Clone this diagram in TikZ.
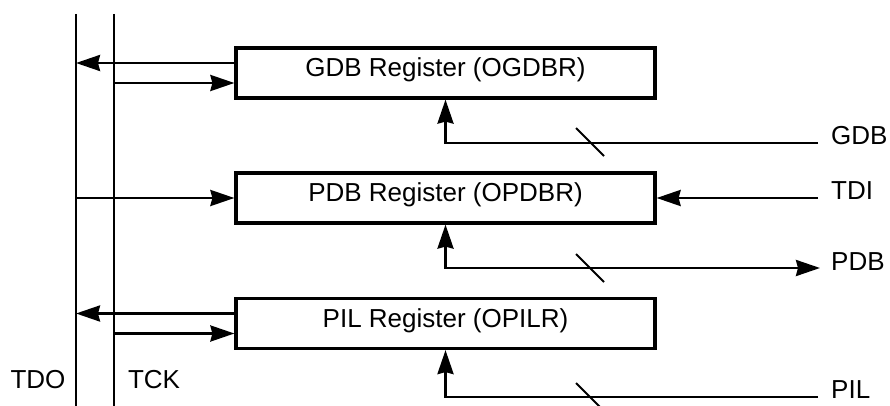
\documentclass[tikz,border=0pt]{standalone}
\usepackage{fontspec}
\setsansfont{Liberation Sans}
\usetikzlibrary{arrows.meta,positioning,calc}
\definecolor{JtagInk}{HTML}{000000}
\tikzset{
  jtag text/.style={font=\sffamily\fontsize{26}{31}\selectfont, text=JtagInk, inner sep=0pt,
    text height=.72em, text depth=0pt},
  jtag register/.style={jtag text, draw=JtagInk, line width=3.2pt, minimum width=419pt, minimum height=50pt},
  jtag rail/.style={draw=JtagInk, line width=2.8pt},
  jtag wire/.style={draw=JtagInk, line width=2.8pt},
  jtag signal/.style={jtag wire, -{Stealth[length=24pt,width=16pt,inset=2pt]}},
  jtag both/.style={jtag wire, {Stealth[length=24pt,width=16pt,inset=2pt]}-{Stealth[length=24pt,width=16pt,inset=2pt]}},
  jtag bus/.style={draw=JtagInk, line width=2pt},
}
\newcommand{\JtagTick}[1]{\draw[jtag bus] ($(#1)+(-14,-14)$) -- ($(#1)+(14,14)$);}

\begin{document}
\begin{tikzpicture}[x=1pt,y=-1pt]
  \useasboundingbox (0,0) rectangle (890,406);

  % scan rails
  \coordinate (tdotop) at (76,14);
  \coordinate (tdoend) at (76,406);
  \coordinate (tcktop) at (114,14);
  \coordinate (tckend) at (114,406);
  \draw[jtag rail] (tdotop) -- (tdoend);
  \draw[jtag rail] (tcktop) -- (tckend);
  \node[jtag text] (tdo) at (38,385) {TDO};
  \node[jtag text] (tck) at (154,385) {TCK};

  % registers
  \node[jtag register] (ogdbr) at (445.5,73) {GDB Register (OGDBR)};
  \node[jtag register] (opdbr) at (445.5,198) {PDB Register (OPDBR)};
  \node[jtag register] (opilr) at (445.5,323.5) {PIL Register (OPILR)};

  % GDB register
  \coordinate (gdbout) at ($(ogdbr.west)+(0,-10)$);
  \coordinate (gdbclk) at ($(ogdbr.west)+(0,10)$);
  \draw[jtag signal] (gdbout) -- (gdbout -| tdotop);
  \draw[jtag signal] (gdbclk -| tcktop) -- (gdbclk);
  \coordinate (gdbin) at (818,143);
  \draw[jtag signal] (gdbin) -| (ogdbr.south);
  \coordinate (gdbtick) at (590,142);
  \JtagTick{gdbtick}
  \node[jtag text, anchor=west] (gdb) at (831,141) {GDB};

  % PDB register
  \draw[jtag signal] (opdbr.west -| tdotop) -- (opdbr.west);
  \coordinate (tdiin) at (818,198);
  \draw[jtag signal] (tdiin) -- (opdbr.east);
  \node[jtag text, anchor=west] (tdi) at (831,196) {TDI};
  \coordinate (pdbout) at (820,268);
  \draw[jtag both] (opdbr.south) |- (pdbout);
  \coordinate (pdbtick) at (590,268);
  \JtagTick{pdbtick}
  \node[jtag text, anchor=west] (pdb) at (831,267) {PDB};

  % PIL register
  \coordinate (pilout) at ($(opilr.west)+(0,-10)$);
  \coordinate (pilclk) at ($(opilr.west)+(0,10)$);
  \draw[jtag signal] (pilout) -- (pilout -| tdotop);
  \draw[jtag signal] (pilclk -| tcktop) -- (pilclk);
  \coordinate (pilin) at (818,397);
  \draw[jtag signal] (pilin) -| (opilr.south);
  \coordinate (piltick) at (590,397);
  \JtagTick{piltick}
  \node[jtag text, anchor=west] (pil) at (831,395) {PIL};
\end{tikzpicture}
\end{document}
